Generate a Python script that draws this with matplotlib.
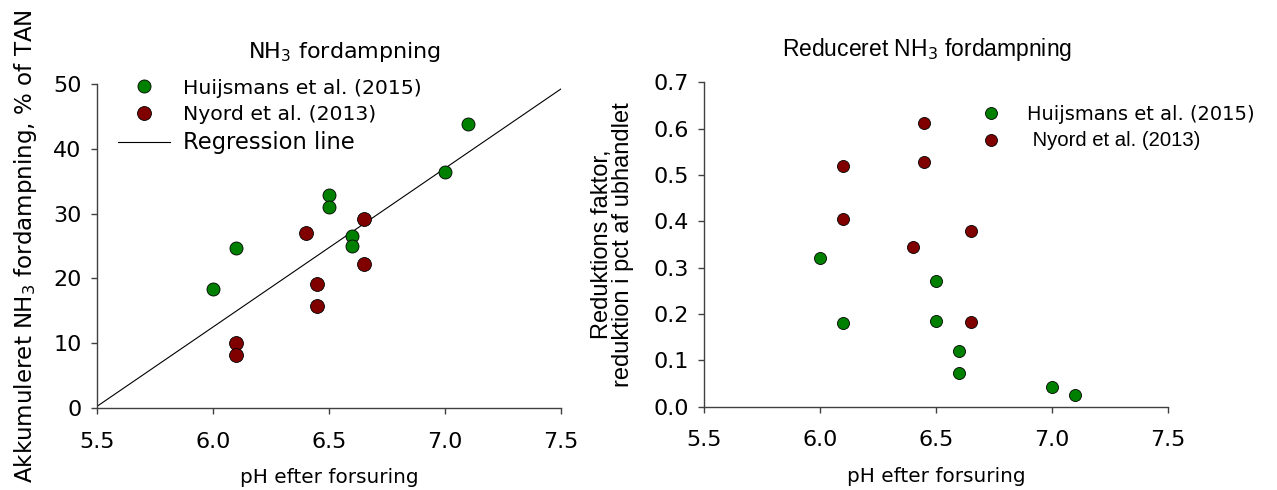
import numpy as np
import matplotlib.pyplot as plt
from matplotlib.lines import Line2D

# NH3 evaporation vs pH after acidification
huij_ph = [6.0, 6.1, 6.5, 6.5, 6.6, 6.6, 7.0, 7.1]
huij_nh3 = [18.35, 24.7, 32.8, 31.0, 26.6, 25.0, 36.4, 43.9]
nyord_ph = [6.1, 6.1, 6.4, 6.45, 6.45, 6.65, 6.65]
nyord_nh3 = [10.1, 8.2, 27.0, 19.2, 15.7, 29.2, 22.25]

# regression line as drawn in the figure
reg_x = [5.5, 7.5]
reg_slope = 24.5
reg_intercept = 0.26 - 24.5 * 5.5

# reduction factor vs pH
huij_ph_red = [6.0, 6.5, 6.1, 6.5, 6.6, 6.6, 7.0, 7.1]
huij_red = [0.321, 0.272, 0.181, 0.186, 0.121, 0.072, 0.043, 0.026]
nyord_ph_red = [6.45, 6.45, 6.1, 6.1, 6.65, 6.4, 6.65]
nyord_red = [0.613, 0.528, 0.519, 0.406, 0.379, 0.344, 0.183]

x_ticks = [5.5, 6.0, 6.5, 7.0, 7.5]
GREEN = '#008000'
RED = '#800000'
AXCOL = '#404040'

plt.rcParams['font.family'] = ['DejaVu Sans']
fig = plt.figure(figsize=(12.77, 4.9), dpi=100)

def style(ax):
    for s in ['top', 'right']:
        ax.spines[s].set_visible(False)
    for s in ['left', 'bottom']:
        ax.spines[s].set_color(AXCOL)
        ax.spines[s].set_linewidth(1.0)
    ax.tick_params(direction='out', length=4, width=1, color=AXCOL, labelsize=16)
    ax.tick_params(axis='x', pad=13)
    ax.tick_params(axis='y', pad=7)
    ax.set_xlim(5.5, 7.5)
    ax.set_xticks(x_ticks)
    ax.set_xticklabels(['%.1f' % t for t in x_ticks])
    ax.set_xlabel('pH efter forsuring', fontsize=14.4, labelpad=12)

# left panel
ax1 = fig.add_axes([0.0760, 0.1673, 0.3634, 0.6612])
style(ax1)
ax1.set_ylim(0, 50)
ax1.set_yticks([0, 10, 20, 30, 40, 50])
xs = np.array(reg_x)
ax1.plot(xs, reg_intercept + reg_slope * xs, color='black', lw=0.8, zorder=2)
ax1.scatter(huij_ph, huij_nh3, s=88, color=GREEN, edgecolor='black', linewidth=0.6, zorder=3)
ax1.scatter(nyord_ph, nyord_nh3, s=100, color=RED, edgecolor='black', linewidth=0.6, zorder=3)
ax1.set_title(r'NH$_3$ fordampning', fontsize=16, pad=19, x=0.533)
ax1.set_ylabel(r'Akkumuleret NH$_3$ fordampning, % of TAN', fontsize=16.6, labelpad=10)
h1 = [Line2D([], [], ls='none', marker='o', ms=9.4, mfc=GREEN, mec='black', mew=0.6),
      Line2D([], [], ls='none', marker='o', ms=10, mfc=RED, mec='black', mew=0.6),
      Line2D([], [], color='black', lw=0.8)]
leg1 = ax1.legend(h1, ['Huijsmans et al. (2015)', 'Nyord et al. (2013)', 'Regression line'],
                  loc='upper left', bbox_to_anchor=(0.045, 1.017), frameon=False,
                  fontsize=14.7, handlelength=2.55, handletextpad=0.64, labelspacing=0.35,
                  borderpad=0, borderaxespad=0)
leg1.get_texts()[2].set_fontsize(16.3)

# right panel
ax2 = fig.add_axes([0.5513, 0.170, 0.3634, 0.662])
style(ax2)
ax2.set_ylim(0, 0.7)
ax2.set_yticks(np.arange(0, 0.71, 0.1))
ax2.set_yticklabels(['%.1f' % v for v in np.arange(0, 0.71, 0.1)])
ax2.scatter(huij_ph_red, huij_red, s=75, color=GREEN, edgecolor='black', linewidth=0.6, zorder=3)
ax2.scatter(nyord_ph_red, nyord_red, s=75, color=RED, edgecolor='black', linewidth=0.6, zorder=3)
ax2.set_title(r'Reduceret NH$_3$ fordampning', fontsize=16.5, pad=19, x=0.48,
              family=['Liberation Sans'])
ax2.set_ylabel('Reduktions faktor,\nreduktion i pct af ubhandlet', fontsize=17,
               family=['Liberation Sans'], labelpad=14, linespacing=0.95)
h2 = [Line2D([], [], ls='none', marker='o', ms=8.6, mfc=GREEN, mec='black', mew=0.6),
      Line2D([], [], ls='none', marker='o', ms=8.6, mfc=RED, mec='black', mew=0.6)]
leg2 = ax2.legend(h2, ['Huijsmans et al. (2015)', ' Nyord et al. (2013)'],
                  loc='upper left', bbox_to_anchor=(0.5976, 0.930), frameon=False,
                  fontsize=14, handlelength=1.0, handletextpad=1.34, labelspacing=0.38,
                  borderpad=0, borderaxespad=0)
leg2.get_texts()[1].set_family(['Liberation Sans'])
leg2.get_texts()[1].set_fontsize(14.6)

fig.savefig('out.png', dpi=100)
